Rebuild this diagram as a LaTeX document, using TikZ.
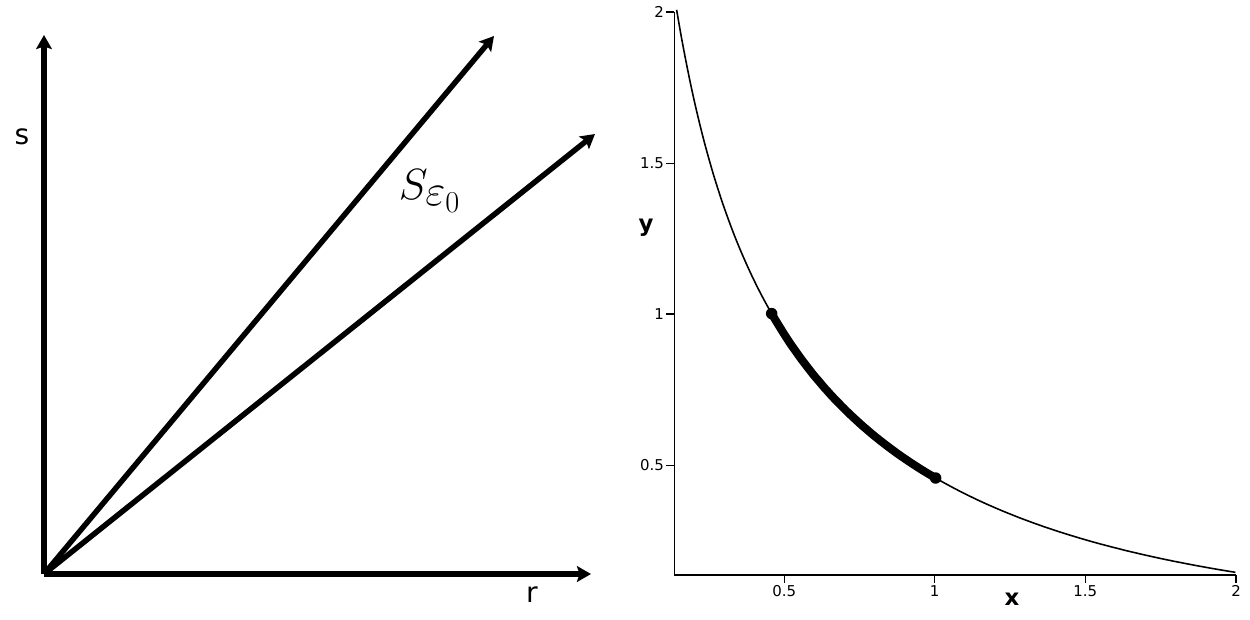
\documentclass[tikz,border=0pt]{standalone}
\usepackage{fontspec}
\setsansfont{DejaVu Sans}
\usetikzlibrary{arrows.meta}
\begin{document}
\begin{tikzpicture}[x=0.02cm,y=-0.02cm,
  bigarrow/.style={line width=3.1pt,-{Stealth[length=8pt,width=9pt,inset=1.5pt]}},
  thinaxis/.style={line width=0.75pt},
  tick/.style={line width=0.7pt},
  ticklab/.style={font=\sffamily\fontsize{8.5}{10}\selectfont,inner sep=1pt},
  axlab/.style={font=\sffamily\fontsize{16}{18}\selectfont,inner sep=0pt},
  plotlab/.style={font=\sffamily\bfseries\fontsize{13}{15}\selectfont,inner sep=0pt},
  dot/.style={circle,fill=black,inner sep=0pt,minimum size=0.23cm}]
\useasboundingbox (0,0) rectangle (1250,619);
% ---------- left panel ----------
\coordinate (O) at (44,574);
\coordinate (stop) at (44,35);
\coordinate (rend) at (591,574);
\coordinate (ray1) at (494,36);
\coordinate (ray2) at (595,134);
\draw[bigarrow] (O) -- (stop);
\draw[bigarrow] (O) -- (rend);
\draw[bigarrow] (O) -- (ray1);
\draw[bigarrow] (O) -- (ray2);
\node[axlab] (slab) at (22,137) {s};
\node[axlab] (rlab) at (532,595) {r};
\node[inner sep=0pt] (Slab) at (430,191) {\fontsize{33}{36}\selectfont$S_{\varepsilon_0}$};
% ---------- right panel ----------
\coordinate (C) at (674.3,575);
\coordinate (ytop) at (674.3,12);
\coordinate (xend) at (1236,575);
\draw[thinaxis] (ytop) -- (C) -- (xend);
% y ticks
\foreach \v/\p [count=\i] in {2/12,1.5/163.3,1/314,0.5/465.3}{
  \coordinate (yt\i) at (674.3,\p);
  \draw[tick] (yt\i) -- ++(-8,0) node[ticklab,anchor=east] (ytl\i) {\v};
}
% x ticks
\foreach \v/\p [count=\i] in {0.5/784.3,1/934.7,1.5/1085.3,2/1236}{
  \coordinate (xt\i) at (\p,575);
  \draw[tick] (xt\i) -- ++(0,8) node[ticklab,anchor=north] (xtl\i) {\v};
}
\node[plotlab] (xlab) at (1012,599) {x};
\node[plotlab] (ylab) at (646,228) {y};
% curve
\draw[line width=0.9pt,smooth,samples=120,domain=0.142:2]
  plot ({633.9+300.8*\x},{616.3-302*pow(1.792-pow(\x,0.3),1/0.3)});
\draw[line width=4.6pt,smooth,samples=60,domain=0.458:1.003]
  plot ({633.9+300.8*\x},{616.3-302*pow(1.792-pow(\x,0.3),1/0.3)});
\node[dot] (p1) at ({633.9+300.8*0.458},{616.3-302*pow(1.792-pow(0.458,0.3),1/0.3)}) {};
\node[dot] (p2) at ({633.9+300.8*1.003},{616.3-302*pow(1.792-pow(1.003,0.3),1/0.3)}) {};
\end{tikzpicture}
\end{document}
